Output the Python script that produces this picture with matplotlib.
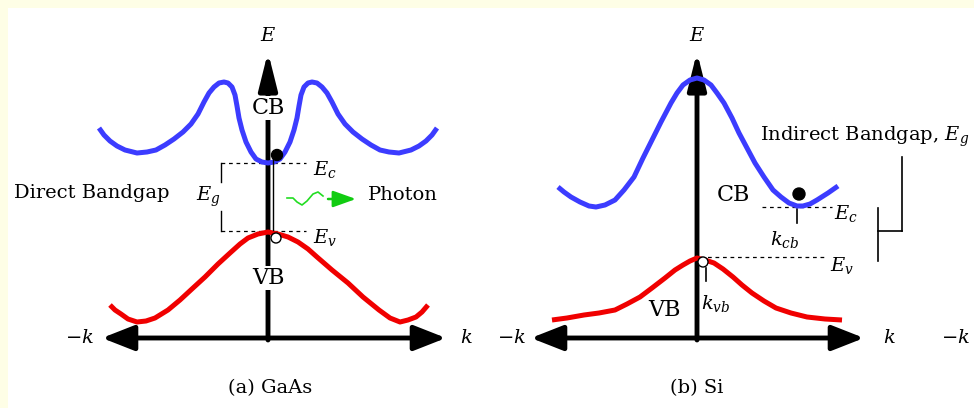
import numpy as np
import matplotlib
matplotlib.use("Agg")
import matplotlib.pyplot as plt
from matplotlib.patches import Rectangle, Circle

plt.rcParams['font.family'] = ['DejaVu Serif']
plt.rcParams['mathtext.fontset'] = 'dejavuserif'

# band shapes, k = offset from the E axis (px), E = height above the k axis (px)
gaas_cb_k_half = [-169, -164, -158, -151, -143, -131, -121, -112, -103, -94, -85, -77, -70, -64,
                  -59, -54, -49, -44, -40, -36, -33, -31, -29, -26, -22, -17, -12, -6, 0]
gaas_cb_E_half = [210, 203, 197, 192, 188, 185, 186, 188, 193, 199, 206, 214, 224, 236,
                  245, 251, 255, 256, 255, 251, 243, 232, 220, 208, 196, 186, 179, 176, 175]
gaas_vb_k = [-158, -153, -147, -140, -131, -122, -113, -100, -88, -75, -63, -50, -38, -28, -20,
             -10, 0, 10, 20, 30, 40, 49, 64, 80, 95, 111, 122, 132, 140, 148, 154, 160]
gaas_vb_E = [33, 28, 24, 19, 16, 17, 20, 28, 38, 50, 61, 74, 85, 94, 100,
             104, 106, 104, 101, 96, 89, 81, 68, 55, 41, 28, 20, 16, 18, 21, 26, 33]

si_cb_k = [-139, -133, -126, -117, -108, -101, -92, -82, -73, -63, -54, -45, -36, -26, -20, -14,
           -7, 0, 7, 14, 20, 27, 35, 42, 50, 58, 67, 76, 84, 92, 100, 106, 113, 120, 131, 141]
si_cb_E = [151, 146, 141, 136, 132, 131, 133, 138, 148, 161, 180, 198, 216, 235, 245, 253,
           258, 260, 258, 253, 245, 235, 220, 205, 190, 175, 161, 148, 141, 135, 132, 132, 134, 138, 145, 152]
si_vb_k = [-145, -130, -113, -98, -82, -70, -57, -45, -32, -22, -14, -7, 0,
           8, 17, 26, 36, 45, 55, 67, 79, 94, 110, 128, 145]
si_vb_E = [18, 20, 23, 25, 28, 34, 41, 50, 60, 68, 73, 77, 80,
           78, 75, 69, 61, 53, 45, 37, 30, 25, 21, 19, 18]

photon_k = [19, 25, 29, 34, 39, 45, 50, 55]
photon_E = [140, 140, 136, 133, 137, 144, 146, 142]

panel_titles = ["(a) GaAs", "(b) Si"]

# GaAs conduction band is drawn symmetric about k = 0
gaas_cb_k = gaas_cb_k_half + [-k for k in gaas_cb_k_half[-2::-1]]
gaas_cb_E = gaas_cb_E_half + gaas_cb_E_half[-2::-1]

fig = plt.figure(figsize=(9.74, 4.08), dpi=100, facecolor='#FEFEE6')
ax = fig.add_axes([0, 0, 1, 1])
ax.set_xlim(0, 974)
ax.set_ylim(408, 0)
ax.axis('off')
ax.add_patch(Rectangle((8, 8), 980, 410, facecolor='white', edgecolor='none', zorder=0))

blue = '#3c3cff'
red = '#f00000'
base_y = 338
fs = 14


def axes_frame(x0, left, right):
    ax.annotate('', xy=(left, base_y), xytext=(right, base_y),
                arrowprops=dict(arrowstyle='<|-|>,head_length=1.4,head_width=0.55',
                                lw=3.5, color='k', mutation_scale=14, shrinkA=0, shrinkB=0))
    ax.annotate('', xy=(x0, 52), xytext=(x0, base_y + 2),
                arrowprops=dict(arrowstyle='-|>,head_length=1.6,head_width=0.4',
                                lw=3.5, color='k', mutation_scale=14, shrinkA=0, shrinkB=0))
    ax.text(x0, 36, '$E$', ha='center', va='center', fontsize=fs)


def band(x0, ks, Es, color):
    ax.plot(x0 + np.array(ks), base_y - np.array(Es), color=color, lw=3.6,
            solid_capstyle='butt', solid_joinstyle='round', zorder=3)


# ---- (a) GaAs
xa = 268
axes_frame(xa, 102, 446)
band(xa, gaas_cb_k, gaas_cb_E, blue)
band(xa, gaas_vb_k, gaas_vb_E, red)
ax.text(xa, 108, 'CB', ha='center', va='center', fontsize=16,
        bbox=dict(facecolor='white', edgecolor='none', pad=1), zorder=4)
ax.text(xa, 278, 'VB', ha='center', va='center', fontsize=16,
        bbox=dict(facecolor='white', edgecolor='none', pad=1), zorder=4)
ax.plot([221, 306], [163, 163], 'k--', lw=0.9, dashes=(3, 3))
ax.plot([221, 306], [231, 231], 'k--', lw=0.9, dashes=(3, 3))
ax.plot([221, 221], [163, 182], 'k-', lw=1)
ax.plot([221, 221], [211, 231], 'k-', lw=1)
ax.text(208, 197, '$E_g$', ha='center', va='center', fontsize=fs)
ax.text(313, 170, '$E_c$', ha='left', va='center', fontsize=fs)
ax.text(313, 238, '$E_v$', ha='left', va='center', fontsize=fs)
ax.plot([273, 273], [158, 230], 'k-', lw=1, zorder=5)
ax.add_patch(Circle((277, 155), 5.5, color='k', zorder=6))
ax.add_patch(Circle((276, 238), 5, facecolor='white', edgecolor='k', lw=1, zorder=6))
ax.plot(xa + np.array(photon_k), base_y - np.array(photon_E), color='#22dd22', lw=1.2)
ax.annotate('', xy=(356, 199), xytext=(328, 199),
            arrowprops=dict(arrowstyle='-|>,head_length=1.4,head_width=0.5',
                            lw=1.8, color='#11cc11', mutation_scale=10, shrinkA=0, shrinkB=0))
ax.text(368, 195, 'Photon', ha='left', va='center', fontsize=fs)
ax.text(14, 193, 'Direct Bandgap', ha='left', va='center', fontsize=fs)
ax.text(80, 338, '$-k$', ha='center', va='center', fontsize=fs)
ax.text(466, 338, '$k$', ha='center', va='center', fontsize=fs)
ax.text(270, 388, panel_titles[0], ha='center', va='center', fontsize=fs)

# ---- (b) Si
xb = 697
axes_frame(xb, 531, 864)
band(xb, si_cb_k, si_cb_E, blue)
band(xb, si_vb_k, si_vb_E, red)
ax.text(733, 195, 'CB', ha='center', va='center', fontsize=16)
ax.text(665, 310, 'VB', ha='center', va='center', fontsize=16)
ax.plot([700, 826], [257, 257], 'k--', lw=0.9, dashes=(3, 3))
ax.plot([762, 832], [207, 207], 'k--', lw=0.9, dashes=(3, 3))
ax.text(834, 214, '$E_c$', ha='left', va='center', fontsize=fs)
ax.text(830, 265, '$E_v$', ha='left', va='center', fontsize=fs)
ax.add_patch(Circle((799, 194), 6, color='k', zorder=6))
ax.add_patch(Circle((703, 262), 5, facecolor='white', edgecolor='k', lw=1, zorder=6))
ax.plot([797, 797], [209, 223], 'k-', lw=1.2)
ax.plot([706, 706], [268, 281], 'k-', lw=1.2)
ax.text(785, 240, '$k_{cb}$', ha='center', va='center', fontsize=fs)
ax.text(716, 303, '$k_{vb}$', ha='center', va='center', fontsize=fs)
ax.plot([878, 878], [208, 261], 'k-', lw=1.2)
ax.plot([878, 902], [231, 231], 'k-', lw=1.2)
ax.plot([902, 902], [157, 231], 'k-', lw=1.2)
ax.text(760, 137, 'Indirect Bandgap, $E_g$', ha='left', va='center', fontsize=fs)
ax.text(512, 338, '$-k$', ha='center', va='center', fontsize=fs)
ax.text(889, 338, '$k$', ha='center', va='center', fontsize=fs)
ax.text(970, 338, '$-k$', ha='right', va='center', fontsize=fs)
ax.text(697, 388, panel_titles[1], ha='center', va='center', fontsize=fs)

fig.savefig('out.png', dpi=100, facecolor=fig.get_facecolor())
